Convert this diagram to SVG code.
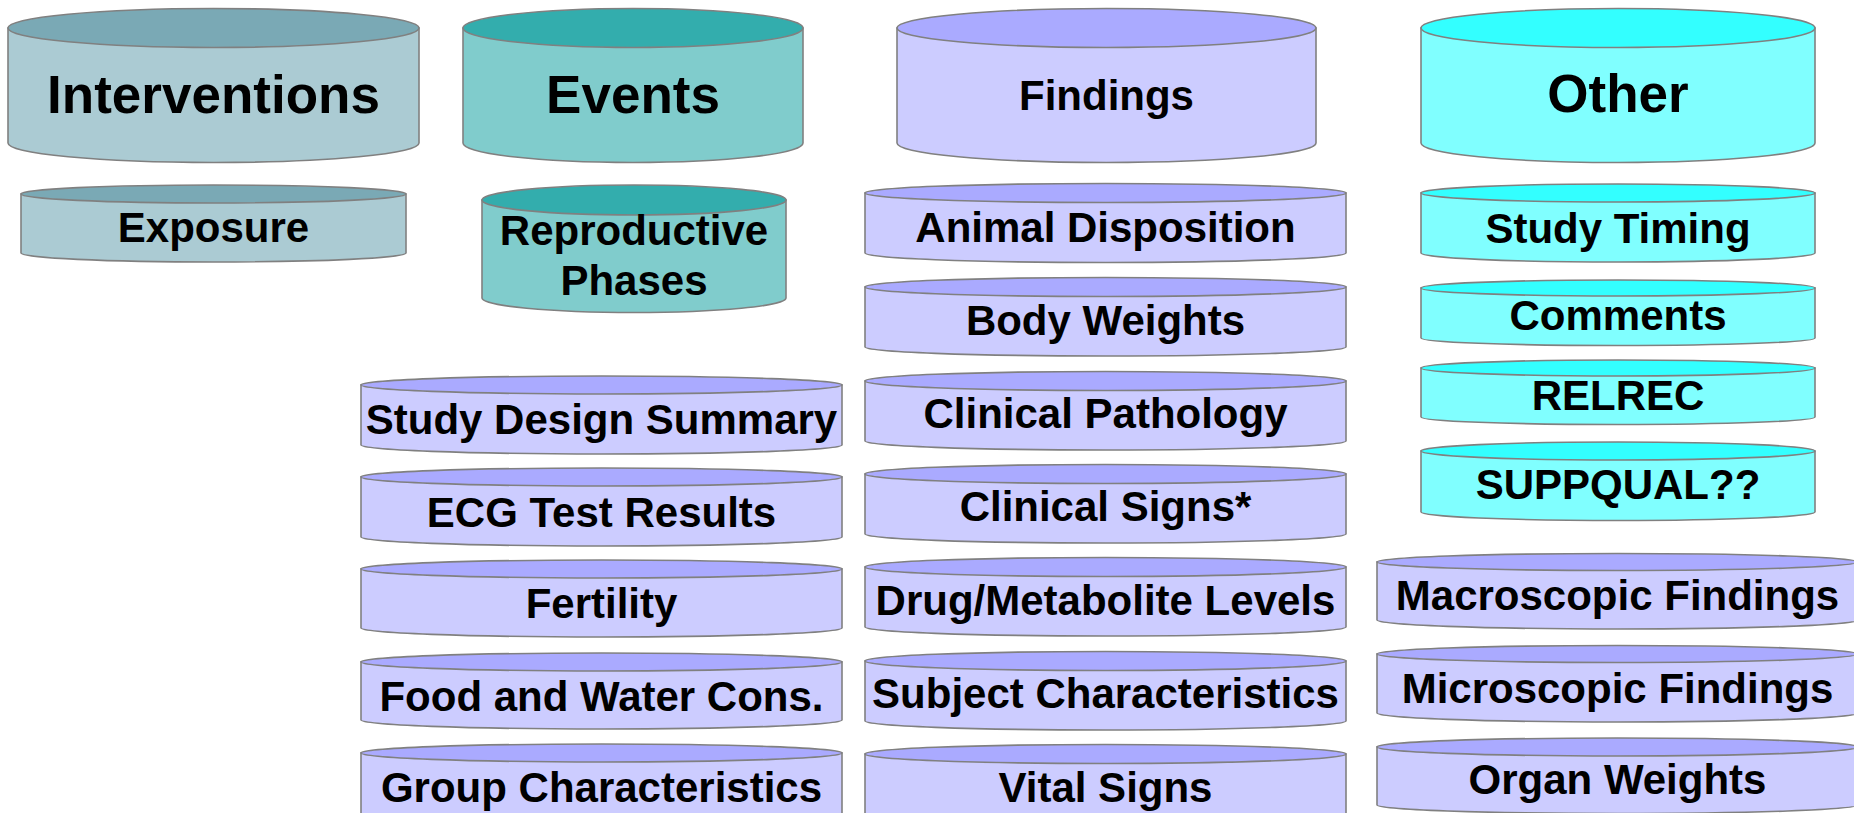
<svg xmlns="http://www.w3.org/2000/svg" width="1854" height="813" viewBox="0 0 1854 813">
<style>
  .body{stroke:#808080;stroke-width:1.6}
  .top{stroke:#808080;stroke-width:1.6}
  .iv .body{fill:#abcbd3}.iv .top{fill:#7aa9b5}
  .ev .body{fill:#80cccc}.ev .top{fill:#33adad}
  .fi .body{fill:#ccccff}.fi .top{fill:#aaaaff}
  .ot .body{fill:#80ffff}.ot .top{fill:#33ffff}
  text{font-family:"Liberation Sans",Arial,sans-serif;font-weight:bold;fill:#000;text-anchor:middle}
  .big{font-size:53px}
  .sm{font-size:42px}
</style>
<rect width="1854" height="813" fill="#ffffff"/>
<g id="connectors"/>

<!-- Big headers -->
<g id="interventions" class="iv">
  <path class="body" d="M8,28 V143 A205.5,19.5 0 0 0 419,143 V28 Z"/>
  <ellipse class="top" cx="213.5" cy="28" rx="205.5" ry="19.5"/>
  <text class="big" x="213.5" y="113">Interventions</text>
</g>
<g id="events" class="ev">
  <path class="body" d="M463,28 V143 A170,19.5 0 0 0 803,143 V28 Z"/>
  <ellipse class="top" cx="633" cy="28" rx="170" ry="19.5"/>
  <text class="big" x="633" y="113">Events</text>
</g>
<g id="findings" class="fi">
  <path class="body" d="M897,28 V143 A209.5,19.5 0 0 0 1316,143 V28 Z"/>
  <ellipse class="top" cx="1106.5" cy="28" rx="209.5" ry="19.5"/>
  <text class="sm" x="1106.5" y="110">Findings</text>
</g>
<g id="other" class="ot">
  <path class="body" d="M1421,28 V143 A197,19.5 0 0 0 1815,143 V28 Z"/>
  <ellipse class="top" cx="1618" cy="28" rx="197" ry="19.5"/>
  <text class="big" x="1618" y="112">Other</text>
</g>

<!-- Interventions -->
<g id="exposure" class="iv">
  <path class="body" d="M21,194 V253 A192.5,9 0 0 0 406,253 V194 Z"/>
  <ellipse class="top" cx="213.5" cy="194" rx="192.5" ry="9"/>
  <text class="sm" x="213.5" y="242">Exposure</text>
</g>

<!-- Events -->
<g id="reproductive-phases" class="ev">
  <path class="body" d="M482,200 V298 A152,14.5 0 0 0 786,298 V200 Z"/>
  <ellipse class="top" cx="634" cy="200" rx="152" ry="15"/>
  <text class="sm" x="634" y="245">Reproductive</text>
  <text class="sm" x="634" y="295">Phases</text>
</g>

<!-- Left findings column -->
<g id="study-design-summary" class="fi">
  <path class="body" d="M361,385 V445 A240.5,9 0 0 0 842,445 V385 Z"/>
  <ellipse class="top" cx="601.5" cy="385" rx="240.5" ry="9"/>
  <text class="sm" x="601.5" y="434">Study Design Summary</text>
</g>
<g id="ecg-test-results" class="fi">
  <path class="body" d="M361,477 V537 A240.5,9 0 0 0 842,537 V477 Z"/>
  <ellipse class="top" cx="601.5" cy="477" rx="240.5" ry="9"/>
  <text class="sm" x="601.5" y="527">ECG Test Results</text>
</g>
<g id="fertility" class="fi">
  <path class="body" d="M361,569 V628 A240.5,9 0 0 0 842,628 V569 Z"/>
  <ellipse class="top" cx="601.5" cy="569" rx="240.5" ry="9"/>
  <text class="sm" x="601.5" y="618">Fertility</text>
</g>
<g id="food-water" class="fi">
  <path class="body" d="M361,662 V720 A240.5,9 0 0 0 842,720 V662 Z"/>
  <ellipse class="top" cx="601.5" cy="662" rx="240.5" ry="9"/>
  <text class="sm" x="601.5" y="711">Food and Water Cons.</text>
</g>
<g id="group-characteristics" class="fi">
  <path class="body" d="M361,753 V813 A240.5,9 0 0 0 842,813 V753 Z"/>
  <ellipse class="top" cx="601.5" cy="753" rx="240.5" ry="9"/>
  <text class="sm" x="601.5" y="802">Group Characteristics</text>
</g>

<!-- Findings column -->
<g id="animal-disposition" class="fi">
  <path class="body" d="M865,193 V253 A240.5,9.5 0 0 0 1346,253 V193 Z"/>
  <ellipse class="top" cx="1105.5" cy="193" rx="240.5" ry="9.5"/>
  <text class="sm" x="1105.5" y="242">Animal Disposition</text>
</g>
<g id="body-weights" class="fi">
  <path class="body" d="M865,287 V347 A240.5,9 0 0 0 1346,347 V287 Z"/>
  <ellipse class="top" cx="1105.5" cy="287" rx="240.5" ry="9.5"/>
  <text class="sm" x="1105.5" y="335">Body Weights</text>
</g>
<g id="clinical-pathology" class="fi">
  <path class="body" d="M865,381 V441 A240.5,9 0 0 0 1346,441 V381 Z"/>
  <ellipse class="top" cx="1105.5" cy="381" rx="240.5" ry="9.5"/>
  <text class="sm" x="1105.5" y="428">Clinical Pathology</text>
</g>
<g id="clinical-signs" class="fi">
  <path class="body" d="M865,474 V534 A240.5,9 0 0 0 1346,534 V474 Z"/>
  <ellipse class="top" cx="1105.5" cy="474" rx="240.5" ry="9.5"/>
  <text class="sm" x="1105.5" y="521">Clinical Signs*</text>
</g>
<g id="drug-metabolite" class="fi">
  <path class="body" d="M865,567 V627 A240.5,9 0 0 0 1346,627 V567 Z"/>
  <ellipse class="top" cx="1105.5" cy="567" rx="240.5" ry="9.5"/>
  <text class="sm" x="1105.5" y="615">Drug/Metabolite Levels</text>
</g>
<g id="subject-characteristics" class="fi">
  <path class="body" d="M865,661 V721 A240.5,9 0 0 0 1346,721 V661 Z"/>
  <ellipse class="top" cx="1105.5" cy="661" rx="240.5" ry="9.5"/>
  <text class="sm" x="1105.5" y="708">Subject Characteristics</text>
</g>
<g id="vital-signs" class="fi">
  <path class="body" d="M865,754 V814 A240.5,9 0 0 0 1346,814 V754 Z"/>
  <ellipse class="top" cx="1105.5" cy="754" rx="240.5" ry="9.5"/>
  <text class="sm" x="1105.5" y="802">Vital Signs</text>
</g>

<!-- Other column -->
<g id="study-timing" class="ot">
  <path class="body" d="M1421,193 V253 A197,9 0 0 0 1815,253 V193 Z"/>
  <ellipse class="top" cx="1618" cy="193" rx="197" ry="9"/>
  <text class="sm" x="1618" y="243">Study Timing</text>
</g>
<g id="comments" class="ot">
  <path class="body" d="M1421,288 V338 A197,7.5 0 0 0 1815,338 V288 Z"/>
  <ellipse class="top" cx="1618" cy="288" rx="197" ry="8"/>
  <text class="sm" x="1618" y="330">Comments</text>
</g>
<g id="relrec" class="ot">
  <path class="body" d="M1421,368 V417 A197,7.5 0 0 0 1815,417 V368 Z"/>
  <ellipse class="top" cx="1618" cy="368" rx="197" ry="8"/>
  <text class="sm" x="1618" y="410">RELREC</text>
</g>
<g id="suppqual" class="ot">
  <path class="body" d="M1421,451 V512 A197,8.5 0 0 0 1815,512 V451 Z"/>
  <ellipse class="top" cx="1618" cy="451" rx="197" ry="9"/>
  <text class="sm" x="1618" y="499">SUPPQUAL??</text>
</g>

<!-- Right findings column -->
<g id="macroscopic-findings" class="fi">
  <path class="body" d="M1377,562 V620 A240.5,9 0 0 0 1858,620 V562 Z"/>
  <ellipse class="top" cx="1617.5" cy="562" rx="240.5" ry="8.5"/>
  <text class="sm" x="1617.5" y="610">Macroscopic Findings</text>
</g>
<g id="microscopic-findings" class="fi">
  <path class="body" d="M1377,654 V713 A240.5,9 0 0 0 1858,713 V654 Z"/>
  <ellipse class="top" cx="1617.5" cy="654" rx="240.5" ry="8.5"/>
  <text class="sm" x="1617.5" y="703">Microscopic Findings</text>
</g>
<g id="organ-weights" class="fi">
  <path class="body" d="M1377,747 V805 A240.5,8.5 0 0 0 1858,805 V747 Z"/>
  <ellipse class="top" cx="1617.5" cy="747" rx="240.5" ry="9"/>
  <text class="sm" x="1617.5" y="794">Organ Weights</text>
</g>
</svg>
